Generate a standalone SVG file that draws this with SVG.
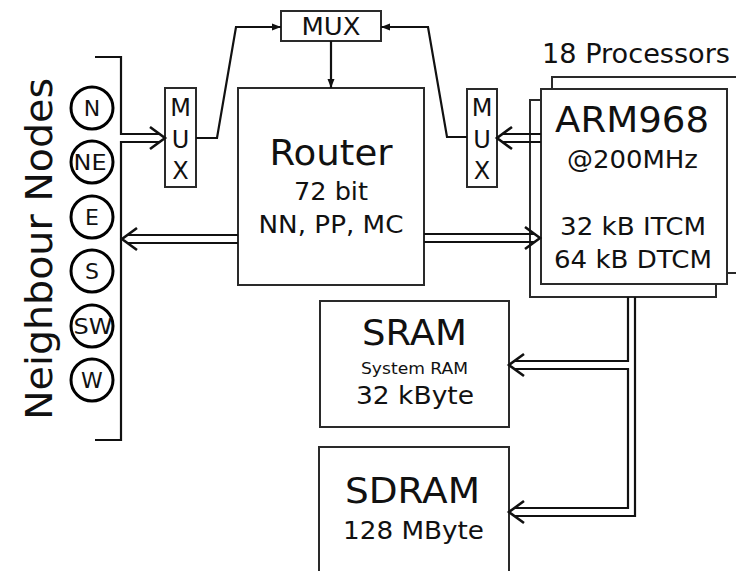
<svg xmlns="http://www.w3.org/2000/svg" width="736" height="571" viewBox="0 0 736 571">
<defs>
<style>
.box{fill:#fff;stroke:#2a2a2a;stroke-width:2}
.ln{fill:none;stroke:#111;stroke-width:2.2;stroke-linejoin:miter}
.hd{fill:none;stroke:#111;stroke-width:2.6;stroke-linejoin:miter}
.t{font-family:"DejaVu Sans",Verdana,sans-serif;fill:#111;text-anchor:middle}
.c{fill:#fff;stroke:#000;stroke-width:3}
</style>
<marker id="ah" markerUnits="userSpaceOnUse" markerWidth="10" markerHeight="8" refX="9" refY="4" orient="auto">
<path d="M0,0.5 L9,4 L0,7.5 z" fill="#111"/>
</marker>
</defs>
<rect width="736" height="571" fill="#fff"/>

<g id="neighbours">
<text class="t" font-size="38" textLength="342" lengthAdjust="spacingAndGlyphs" transform="translate(52,249) rotate(-90)">Neighbour Nodes</text>
<circle class="c" cx="92" cy="108" r="21"/><text class="t" x="92" y="116" font-size="22">N</text>
<circle class="c" cx="92" cy="162" r="21"/><text class="t" x="90" y="170" font-size="22" textLength="33" lengthAdjust="spacingAndGlyphs">NE</text>
<circle class="c" cx="92" cy="217" r="21"/><text class="t" x="92" y="225" font-size="22">E</text>
<circle class="c" cx="92" cy="271" r="21"/><text class="t" x="92" y="279" font-size="22">S</text>
<circle class="c" cx="92" cy="326" r="21"/><text class="t" x="93" y="334" font-size="22" textLength="39" lengthAdjust="spacingAndGlyphs">SW</text>
<circle class="c" cx="92" cy="380" r="21"/><text class="t" x="92" y="388" font-size="22">W</text>
</g>

<g id="mux-left">
<rect class="box" x="165" y="88" width="31" height="99"/>
<text class="t" x="180.5" y="116" font-size="24">M</text>
<text class="t" x="180.5" y="148" font-size="24">U</text>
<text class="t" x="180.5" y="179" font-size="24">X</text>
</g>

<g id="mux-top">
<rect class="box" x="281" y="11" width="100" height="30"/>
<text class="t" x="331" y="35" font-size="24" textLength="59" lengthAdjust="spacingAndGlyphs">MUX</text>
</g>

<g id="mux-right">
<rect class="box" x="467" y="89" width="30" height="98"/>
<text class="t" x="482" y="116" font-size="24">M</text>
<text class="t" x="482" y="148" font-size="24">U</text>
<text class="t" x="482" y="179" font-size="24">X</text>
</g>

<g id="router">
<rect class="box" x="238" y="88" width="186" height="197"/>
<text class="t" x="331" y="165" font-size="36" textLength="123" lengthAdjust="spacingAndGlyphs">Router</text>
<text class="t" x="331" y="200" font-size="24" textLength="74" lengthAdjust="spacingAndGlyphs">72 bit</text>
<text class="t" x="331" y="233" font-size="25" textLength="145" lengthAdjust="spacingAndGlyphs">NN, PP, MC</text>
</g>

<g id="processors">
<text class="t" x="636" y="63" font-size="26" textLength="188" lengthAdjust="spacingAndGlyphs">18 Processors</text>
<rect class="box" x="552" y="77" width="190" height="196"/>
<rect class="box" x="530" y="100" width="186" height="197"/>
<rect class="box" x="541" y="89" width="186" height="195"/>
<text class="t" x="632" y="132" font-size="36" textLength="154" lengthAdjust="spacingAndGlyphs">ARM968</text>
<text class="t" x="632.5" y="168" font-size="25" textLength="131" lengthAdjust="spacingAndGlyphs">@200MHz</text>
<text class="t" x="633" y="235" font-size="25" textLength="146" lengthAdjust="spacingAndGlyphs">32 kB ITCM</text>
<text class="t" x="633" y="268" font-size="25" textLength="158" lengthAdjust="spacingAndGlyphs">64 kB DTCM</text>
</g>

<g id="sram">
<rect class="box" x="320" y="301" width="189" height="126"/>
<text class="t" x="414.5" y="345" font-size="36" textLength="105" lengthAdjust="spacingAndGlyphs">SRAM</text>
<text class="t" x="414.5" y="374" font-size="16" textLength="107" lengthAdjust="spacingAndGlyphs">System RAM</text>
<text class="t" x="415" y="404" font-size="25" textLength="118" lengthAdjust="spacingAndGlyphs">32 kByte</text>
</g>

<g id="sdram">
<rect class="box" x="319" y="447" width="190" height="140"/>
<text class="t" x="412.5" y="503" font-size="36" textLength="135" lengthAdjust="spacingAndGlyphs">SDRAM</text>
<text class="t" x="413.5" y="539" font-size="25" textLength="141" lengthAdjust="spacingAndGlyphs">128 MByte</text>
</g>

<g id="connectors">
<!-- bracket with input arrow to left MUX -->
<path class="ln" d="M95,57 H121 V134 H160"/>
<path class="ln" d="M160,142 H121 V440 H95"/>
<polyline class="hd" points="150,127 165,138 150,149"/>
<!-- left MUX to top MUX -->
<path class="ln" d="M196,138 H217 L236,27 H281" marker-end="url(#ah)"/>
<!-- right MUX to top MUX -->
<path class="ln" d="M467,137 H447 L428,27 H381" marker-end="url(#ah)"/>
<!-- top MUX to router -->
<path class="ln" d="M331,41 V88" marker-end="url(#ah)"/>
<!-- router to neighbours -->
<path class="ln" d="M238,235 H127 M238,243 H127"/>
<polyline class="hd" points="137,228 122,239 137,250"/>
<!-- router to processors -->
<path class="ln" d="M424,234 H535 M424,242 H535"/>
<polyline class="hd" points="525,227 540,238 525,249"/>
<!-- processors to right MUX -->
<path class="ln" d="M541,134 H502 M541,142 H502"/>
<polyline class="hd" points="512,127 497,138 512,149"/>
<!-- processor bus to SRAM and SDRAM -->
<path class="ln" d="M628,297 V361 H514"/>
<path class="ln" d="M514,369 H628 V508 H514"/>
<path class="ln" d="M635,297 V516 H514"/>
<polyline class="hd" points="524,354 509,365 524,376"/>
<polyline class="hd" points="524,501 509,512 524,523"/>
</g>
</svg>
